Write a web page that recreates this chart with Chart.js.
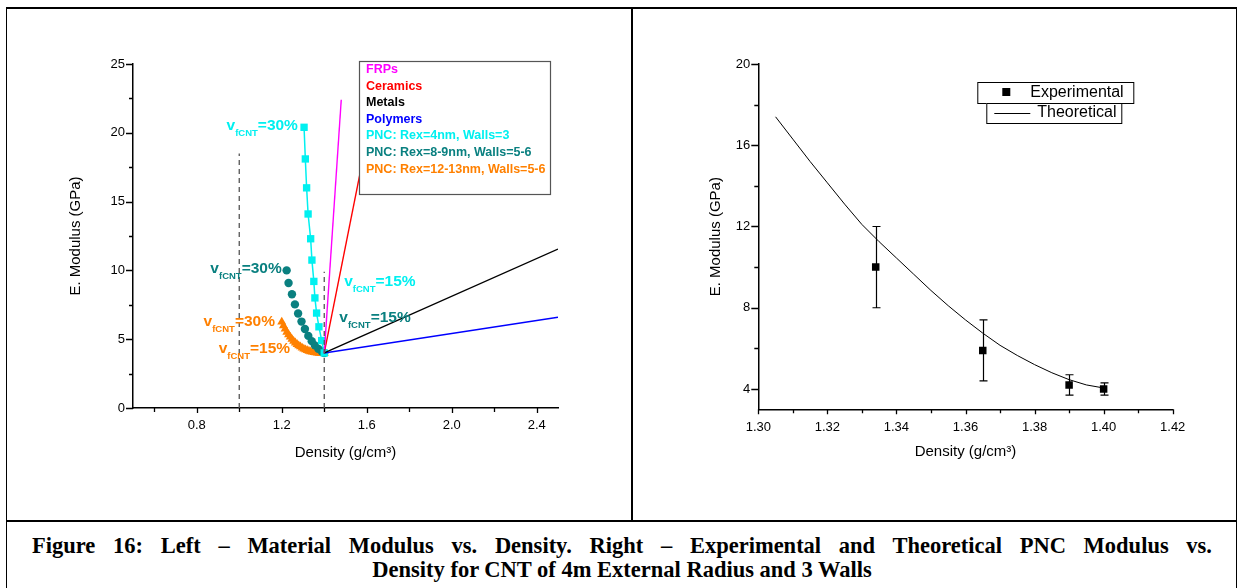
<!DOCTYPE html>
<html>
<head>
<meta charset="utf-8">
<script src="https://cdn.jsdelivr.net/npm/chart.js@4.4.1/dist/chart.umd.min.js"></script>
<style>
  html, body { margin: 0; padding: 0; background: #fff; }
  body { width: 1243px; height: 588px; position: relative; overflow: hidden; }
  #frame { position: absolute; left: 6px; top: 7px; width: 1229px; height: 600px;
           border-left: 1.5px solid #000; border-right: 1.5px solid #000; border-top: 2px solid #000; }
  #divider { position: absolute; left: 631px; top: 8px; width: 2px; height: 513px; background: #000; }
  #rule { position: absolute; left: 6px; top: 520px; width: 1231px; height: 2px; background: #000; }
  .panel { position: absolute; top: 8px; height: 512px; }
  #leftPanel { left: 8px; width: 623px; }
  #rightPanel { left: 633px; width: 603px; }
  .cap { position: absolute; font-family: "Liberation Serif", "Times New Roman", serif; font-weight: bold;
         font-size: 22.5px; line-height: 24px; color: #000; white-space: nowrap; }
  #capLine1 { left: 32px; top: 534px; width: 1180px; text-align: justify; text-align-last: justify; white-space: normal; }
  #capLine2 { left: 7px; top: 558px; width: 1230px; text-align: center; }
</style>
</head>
<body>
<div id="frame"></div>
<div id="divider"></div>
<div id="rule"></div>
<div class="panel" id="leftPanel"><canvas id="leftChart"></canvas></div>
<div class="panel" id="rightPanel"><canvas id="rightChart"></canvas></div>
<div class="cap" id="capLine1">Figure 16: Left – Material Modulus vs. Density. Right – Experimental and Theoretical PNC Modulus vs.</div>
<div class="cap" id="capLine2">Density for CNT of 4m External Radius and 3 Walls</div>

<script>
// ---- left chart data (density g/cm3, modulus GPa) ----
const seriesNames = ['FRPs', 'Ceramics', 'Metals', 'Polymers',
  'PNC: Rex=4nm, Walls=3', 'PNC: Rex=8-9nm, Walls=5-6', 'PNC: Rex=12-13nm, Walls=5-6'];

const frpX = [1.40, 1.48];
const frpY = [4.0, 22.4];
const ceramicsX = [1.40, 1.60];
const ceramicsY = [4.0, 19.5];
const metalsX = [1.40, 2.50];
const metalsY = [4.0, 11.55];
const polymersX = [1.40, 2.50];
const polymersY = [4.0, 6.6];

const pnc4X = [1.305, 1.311, 1.317, 1.324, 1.336, 1.342, 1.351, 1.356, 1.364, 1.375, 1.388, 1.40];
const pnc4Y = [20.4, 18.1, 16.0, 14.1, 12.3, 10.75, 9.2, 8.0, 6.9, 5.9, 4.9, 4.0];

const pnc8X = [1.223, 1.232, 1.248, 1.262, 1.277, 1.293, 1.309, 1.325, 1.341, 1.356, 1.372, 1.388, 1.40];
const pnc8Y = [10.0, 9.08, 8.27, 7.53, 6.87, 6.28, 5.74, 5.24, 4.86, 4.55, 4.3, 4.12, 4.0];

const pnc12X = [1.200, 1.208, 1.216, 1.224, 1.232, 1.240, 1.248, 1.256, 1.264, 1.272, 1.280, 1.288, 1.296,
  1.304, 1.312, 1.320, 1.328, 1.336, 1.344, 1.352, 1.360, 1.368, 1.376, 1.384, 1.392, 1.400];
const pnc12Y = [6.25, 5.98, 5.74, 5.52, 5.33, 5.16, 5.0, 4.86, 4.74, 4.63, 4.53, 4.45, 4.37,
  4.3, 4.24, 4.19, 4.14, 4.1, 4.07, 4.04, 4.02, 4.0, 3.98, 3.97, 3.97, 3.97];

const guideAX = [1.0, 1.0];
const guideAY = [0, 18.5];
const guideBX = [1.4, 1.4];
const guideBY = [0, 9.9];

const leftXTicks = [0.6, 0.8, 1.0, 1.2, 1.4, 1.6, 1.8, 2.0, 2.2, 2.4];
const leftXLabels = [0.8, 1.2, 1.6, 2.0, 2.4];
const leftYTicks = [0, 2.5, 5, 7.5, 10, 12.5, 15, 17.5, 20, 22.5, 25];
const leftYLabels = [0, 5, 10, 15, 20, 25];

// ---- right chart data ----
const expX = [1.334, 1.365, 1.390, 1.400];
const expY = [10.0, 5.9, 4.2, 4.0];
const expHigh = [12.0, 7.4, 4.7, 4.3];
const expLow = [8.0, 4.4, 3.7, 3.7];

const theoX = [1.305, 1.31, 1.315, 1.32, 1.325, 1.33, 1.335, 1.34, 1.345, 1.35,
  1.355, 1.36, 1.365, 1.37, 1.375, 1.38, 1.385, 1.39, 1.395, 1.40];
const theoY = [17.4, 16.3, 15.2, 14.15, 13.1, 12.1, 11.25, 10.45, 9.65, 8.85,
  8.1, 7.4, 6.75, 6.15, 5.65, 5.2, 4.8, 4.46, 4.2, 4.05];

const rightXTicks = [1.30, 1.31, 1.32, 1.33, 1.34, 1.35, 1.36, 1.37, 1.38, 1.39, 1.40, 1.41, 1.42];
const rightXLabels = [1.30, 1.32, 1.34, 1.36, 1.38, 1.40, 1.42];
const rightYTicks = [4, 6, 8, 10, 12, 14, 16, 18, 20];
const rightYLabels = [4, 8, 12, 16, 20];

const FONT = '"Liberation Sans", Arial, sans-serif';
Chart.defaults.font.family = FONT;
Chart.defaults.color = '#000';

const CYAN = '#00f0f0';
const TEAL = '#0a8080';
const ORANGE = '#ff8000';

function pts(xs, ys) {
  return xs.map((x, i) => ({ x, y: ys[i] }));
}

function hasValue(list, v) {
  return list.some((l) => Math.abs(l - v) < 1e-9);
}

// outward tick marks, long for labelled ticks and short for the others
const tickMarks = {
  id: 'tickMarks',
  afterDraw(chart, args, opts) {
    const { ctx, chartArea } = chart;
    const xs = chart.scales.x;
    const ys = chart.scales.y;
    ctx.save();
    ctx.strokeStyle = '#000';
    ctx.lineWidth = 1.3;
    ctx.beginPath();
    xs.ticks.forEach((t) => {
      const px = Math.round(xs.getPixelForValue(t.value)) + 0.5;
      const len = t.label !== '' ? opts.xMajor : opts.xMinor;
      ctx.moveTo(px, chartArea.bottom);
      ctx.lineTo(px, chartArea.bottom + len);
    });
    ys.ticks.forEach((t) => {
      const py = Math.round(ys.getPixelForValue(t.value)) + 0.5;
      const len = t.label !== '' ? opts.yMajor : opts.yMinor;
      ctx.moveTo(chartArea.left, py);
      ctx.lineTo(chartArea.left - len, py);
    });
    ctx.stroke();
    ctx.restore();
  },
};

function axes(cfg) {
  return {
    x: {
      type: 'linear',
      min: cfg.xMin,
      max: cfg.xMax,
      afterBuildTicks: (s) => { s.ticks = cfg.xTicks.map((v) => ({ value: v })); },
      afterFit: (s) => { s.height = cfg.xHeight; },
      grid: { display: false, drawTicks: false },
      border: { display: true, color: '#000', width: 1.5 },
      ticks: {
        autoSkip: false,
        maxRotation: 0,
        padding: 10,
        font: { size: 13 },
        callback: (v) => (hasValue(cfg.xLabels, v) ? v.toFixed(cfg.xDigits) : ''),
      },
      title: { display: true, text: 'Density (g/cm³)', font: { size: 15 }, padding: 0 },
    },
    y: {
      type: 'linear',
      min: cfg.yMin,
      max: cfg.yMax,
      afterBuildTicks: (s) => { s.ticks = cfg.yTicks.map((v) => ({ value: v })); },
      afterFit: (s) => { s.width = cfg.yWidth; },
      grid: { display: false, drawTicks: false },
      border: { display: true, color: '#000', width: 1.5 },
      ticks: {
        autoSkip: false,
        padding: 8,
        font: { size: 13 },
        callback: (v) => (hasValue(cfg.yLabels, v) ? String(v) : ''),
      },
      title: { display: true, text: 'E. Modulus (GPa)', font: { size: 15 }, padding: 0 },
    },
  };
}

// "v fCNT =xx%" notes next to the PNC curves
const volumeNotes = [
  { x: 1.276, y: 20.57, text: '=30%', color: CYAN, align: 'right' },
  { x: 1.200, y: 10.23, text: '=30%', color: TEAL, align: 'right' },
  { x: 1.168, y: 6.35, text: '=30%', color: ORANGE, align: 'right' },
  { x: 1.239, y: 4.41, text: '=15%', color: ORANGE, align: 'right' },
  { x: 1.494, y: 9.3, text: '=15%', color: CYAN, align: 'left' },
  { x: 1.471, y: 6.64, text: '=15%', color: TEAL, align: 'left' },
];

const notesPlugin = {
  id: 'volumeNotes',
  afterDatasetsDraw(chart) {
    const { ctx } = chart;
    const big = 'bold 15.5px ' + FONT;
    const small = 'bold 9.5px ' + FONT;
    ctx.save();
    ctx.textBaseline = 'alphabetic';
    ctx.textAlign = 'left';
    volumeNotes.forEach((n) => {
      ctx.font = big;
      const wv = ctx.measureText('v').width;
      const wt = ctx.measureText(n.text).width;
      ctx.font = small;
      const ws = ctx.measureText('fCNT').width;
      const total = wv + ws + wt;
      const px = chart.scales.x.getPixelForValue(n.x);
      const base = chart.scales.y.getPixelForValue(n.y) + 5.5;
      const x0 = n.align === 'right' ? px - total : px;
      ctx.fillStyle = n.color;
      ctx.font = big;
      ctx.fillText('v', x0, base);
      ctx.font = small;
      ctx.fillText('fCNT', x0 + wv, base + 6);
      ctx.font = big;
      ctx.fillText(n.text, x0 + wv + ws, base);
    });
    ctx.restore();
  },
};

// boxed legend with coloured names (left chart)
const leftLegend = {
  id: 'leftLegend',
  afterDatasetsDraw(chart) {
    const { ctx, chartArea } = chart;
    const bx = chartArea.left + 226;
    const by = chartArea.top - 3;
    ctx.save();
    ctx.fillStyle = '#fff';
    ctx.fillRect(bx, by, 191, 133);
    ctx.strokeStyle = '#555';
    ctx.lineWidth = 1.2;
    ctx.strokeRect(bx + 0.5, by + 0.5, 191, 133);
    ctx.font = 'bold 12.5px ' + FONT;
    ctx.textBaseline = 'middle';
    let row = 0;
    chart.data.datasets.forEach((ds) => {
      if (!ds.label) return;
      ctx.fillStyle = ds.legendColor;
      ctx.fillText(ds.label, bx + 7, by + 8.5 + row * 16.6);
      row++;
    });
    ctx.restore();
  },
};

const leftChart = new Chart(document.getElementById('leftChart'), {
  type: 'scatter',
  data: {
    datasets: [
      { data: pts(guideAX, guideAY), showLine: true, pointRadius: 0, borderColor: '#555', borderWidth: 1.3, borderDash: [5, 4] },
      { data: pts(guideBX, guideBY), showLine: true, pointRadius: 0, borderColor: '#555', borderWidth: 1.3, borderDash: [5, 4] },
      { label: seriesNames[0], legendColor: '#ff00ff', data: pts(frpX, frpY), showLine: true, pointRadius: 0, borderColor: '#ff00ff', borderWidth: 1.4 },
      { label: seriesNames[1], legendColor: '#ff0000', data: pts(ceramicsX, ceramicsY), showLine: true, pointRadius: 0, borderColor: '#ff0000', borderWidth: 1.4 },
      { label: seriesNames[2], legendColor: '#000000', data: pts(metalsX, metalsY), showLine: true, pointRadius: 0, borderColor: '#000000', borderWidth: 1.4 },
      { label: seriesNames[3], legendColor: '#0000ff', data: pts(polymersX, polymersY), showLine: true, pointRadius: 0, borderColor: '#0000ff', borderWidth: 1.4 },
      { label: seriesNames[4], legendColor: CYAN, data: pts(pnc4X, pnc4Y), showLine: true, borderColor: CYAN, borderWidth: 1.5,
        pointStyle: 'rect', pointRadius: 5.2, backgroundColor: CYAN, pointBorderWidth: 0 },
      { label: seriesNames[5], legendColor: TEAL, data: pts(pnc8X, pnc8Y), showLine: false,
        pointStyle: 'circle', pointRadius: 4.2, backgroundColor: TEAL, borderColor: TEAL, pointBorderWidth: 0 },
      { label: seriesNames[6], legendColor: ORANGE, data: pts(pnc12X, pnc12Y), showLine: false,
        pointStyle: 'triangle', pointRadius: 5.2, backgroundColor: ORANGE, borderColor: ORANGE, pointBorderWidth: 0 },
    ],
  },
  options: {
    responsive: true,
    maintainAspectRatio: false,
    animation: false,
    events: [],
    layout: { padding: { left: 58.6, right: 73, top: 56, bottom: 58.6 } },
    plugins: {
      legend: { display: false },
      tooltip: { enabled: false },
      tickMarks: { xMajor: 5, xMinor: 4, yMajor: 7, yMinor: 4 },
    },
    scales: axes({
      xMin: 0.5, xMax: 2.5, xTicks: leftXTicks, xLabels: leftXLabels, xDigits: 1, xHeight: 53.4,
      yMin: 0, yMax: 25, yTicks: leftYTicks, yLabels: leftYLabels, yWidth: 66.4,
    }),
  },
  plugins: [tickMarks, notesPlugin, leftLegend],
});

// error bars for the experimental points
const errorBars = {
  id: 'errorBars',
  beforeDatasetsDraw(chart) {
    const { ctx } = chart;
    const xs = chart.scales.x;
    const ys = chart.scales.y;
    ctx.save();
    ctx.strokeStyle = '#000';
    ctx.lineWidth = 1.2;
    ctx.beginPath();
    expX.forEach((x, i) => {
      const px = Math.round(xs.getPixelForValue(x)) + 0.5;
      const top = ys.getPixelForValue(expHigh[i]);
      const bot = ys.getPixelForValue(expLow[i]);
      ctx.moveTo(px, top); ctx.lineTo(px, bot);
      ctx.moveTo(px - 4, top); ctx.lineTo(px + 4, top);
      ctx.moveTo(px - 4, bot); ctx.lineTo(px + 4, bot);
    });
    ctx.stroke();
    ctx.restore();
  },
};

// the two stacked legend boxes (right chart)
const rightLegend = {
  id: 'rightLegend',
  afterDraw(chart) {
    const { ctx, chartArea } = chart;
    const bx = chartArea.left + 219;
    const by = chartArea.top + 18;
    ctx.save();
    ctx.strokeStyle = '#000';
    ctx.lineWidth = 1;
    ctx.fillStyle = '#fff';
    ctx.fillRect(bx, by, 156, 21);
    ctx.strokeRect(bx + 0.5, by + 0.5, 156, 21);
    ctx.fillRect(bx + 9, by + 21, 135, 20);
    ctx.strokeRect(bx + 9.5, by + 21.5, 135, 20);
    ctx.fillStyle = '#000';
    ctx.fillRect(bx + 25, by + 6, 8, 8);
    ctx.beginPath();
    ctx.moveTo(bx + 17, by + 31.5);
    ctx.lineTo(bx + 53, by + 31.5);
    ctx.stroke();
    ctx.font = '16px ' + FONT;
    ctx.textBaseline = 'middle';
    ctx.fillText(chart.data.datasets[0].label, bx + 53, by + 11);
    ctx.fillText(chart.data.datasets[1].label, bx + 60, by + 31);
    ctx.restore();
  },
};

const rightChart = new Chart(document.getElementById('rightChart'), {
  type: 'scatter',
  data: {
    datasets: [
      { label: 'Experimental', data: pts(expX, expY), pointStyle: 'rect', pointRadius: 5.3,
        backgroundColor: '#000', borderColor: '#000', pointBorderWidth: 0 },
      { label: 'Theoretical', data: pts(theoX, theoY), showLine: true, pointRadius: 0,
        borderColor: '#000', borderWidth: 1 },
    ],
  },
  options: {
    responsive: true,
    maintainAspectRatio: false,
    animation: false,
    events: [],
    layout: { padding: { left: 73.6, right: 63.3, top: 56, bottom: 59.6 } },
    plugins: {
      legend: { display: false },
      tooltip: { enabled: false },
      tickMarks: { xMajor: 5, xMinor: 4, yMajor: 7, yMinor: 4 },
    },
    scales: axes({
      xMin: 1.30, xMax: 1.42, xTicks: rightXTicks, xLabels: rightXLabels, xDigits: 2, xHeight: 51.1,
      yMin: 3, yMax: 20, yTicks: rightYTicks, yLabels: rightYLabels, yWidth: 51.7,
    }),
  },
  plugins: [tickMarks, errorBars, rightLegend],
});
</script>
</body>
</html>
